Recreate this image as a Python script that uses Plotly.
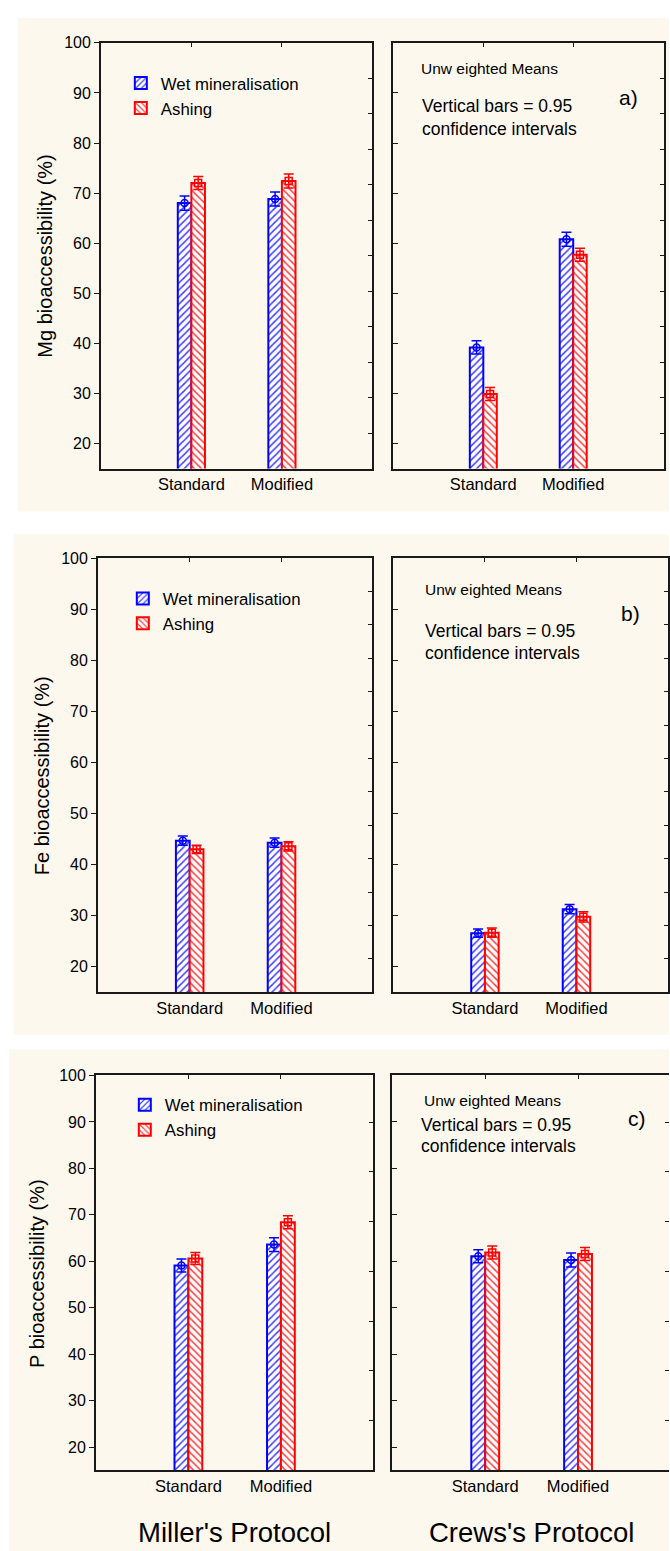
import plotly.graph_objects as go

W, H = 670, 1551
FONT = "Liberation Sans, Arial, sans-serif"
BLUE = "#0000FF"
RED = "#FF0000"
CREAM = "#FDF8EE"

categories = ["Standard", "Modified"]
cat_idx = [0, 1]

# Mg (panel a)
mg_miller_wet = [68.0, 68.8]
mg_miller_wet_ci = [1.4, 1.4]
mg_miller_ash = [72.0, 72.4]
mg_miller_ash_ci = [1.3, 1.4]
mg_crews_wet = [39.2, 60.8]
mg_crews_wet_ci = [1.3, 1.4]
mg_crews_ash = [29.9, 57.7]
mg_crews_ash_ci = [1.3, 1.3]

# Fe (panel b)
fe_miller_wet = [44.7, 44.3]
fe_miller_wet_ci = [0.9, 0.9]
fe_miller_ash = [43.0, 43.6]
fe_miller_ash_ci = [0.8, 0.9]
fe_crews_wet = [26.6, 31.3]
fe_crews_wet_ci = [0.8, 0.9]
fe_crews_ash = [26.7, 29.8]
fe_crews_ash_ci = [0.9, 1.0]

# P (panel c)
p_miller_wet = [59.1, 63.6]
p_miller_wet_ci = [1.4, 1.5]
p_miller_ash = [60.6, 68.4]
p_miller_ash_ci = [1.3, 1.4]
p_crews_wet = [61.1, 60.3]
p_crews_wet_ci = [1.4, 1.5]
p_crews_ash = [61.9, 61.6]
p_crews_ash_ci = [1.4, 1.4]

series_names = ["Wet mineralisation", "Ashing"]
y_ticks = [20, 30, 40, 50, 60, 70, 80, 90, 100]
y_tick_labels = ["20", "30", "40", "50", "60", "70", "80", "90", "100"]
panel_letters = ["a)", "b)", "c)"]
panel_ytitles = ["Mg bioaccessibility (%)", "Fe bioaccessibility (%)", "P bioaccessibility (%)"]
protocol_names = ["Miller's Protocol", "Crews's Protocol"]
note_lines = ["Unw eighted Means", "Vertical bars = 0.95", "confidence intervals"]

panels_data = [
    [(mg_miller_wet, mg_miller_wet_ci, mg_miller_ash, mg_miller_ash_ci),
     (mg_crews_wet, mg_crews_wet_ci, mg_crews_ash, mg_crews_ash_ci)],
    [(fe_miller_wet, fe_miller_wet_ci, fe_miller_ash, fe_miller_ash_ci),
     (fe_crews_wet, fe_crews_wet_ci, fe_crews_ash, fe_crews_ash_ci)],
    [(p_miller_wet, p_miller_wet_ci, p_miller_ash, p_miller_ash_ci),
     (p_crews_wet, p_crews_wet_ci, p_crews_ash, p_crews_ash_ci)],
]

# ---------------- layout geometry (pixels) ----------------
def px(x):
    return x / W

def py(y):
    return 1 - y / H

panel_geo = [
    dict(bg=(18, 10, 670, 506), left=(101, 373), right=(394, 665), top=35, bottom=463,
         xr_left=[-1, 2], xr_right=[-1, 2.01], sec_n=12,
         notes=[(420, 61), (421, 99), (421, 122)], letter=(618, 90),
         legend=(121, 58), ytitle_x=45),
    dict(bg=(14, 529, 670, 1032), left=(98, 373), right=(394, 669), top=553, bottom=989.5,
         xr_left=[-1, 1.99], xr_right=[-1, 2.0], sec_n=13,
         notes=[(424, 585), (424, 626), (424, 648)], letter=(620, 609),
         legend=(123, 576), ytitle_x=42),
    dict(bg=(9, 1047, 670, 1551), left=(96, 374), right=(393, 670), top=1073, bottom=1470,
         xr_left=[-1, 2.0], xr_right=[-1, 1.98], sec_n=7.94,
         notes=[(423, 1098), (420, 1123), (420, 1144)], letter=(627, 1116),
         legend=(125, 1085), ytitle_x=37),
]

fig = go.Figure()
layout = dict(
    width=W, height=H,
    margin=dict(l=0, r=0, t=0, b=0),
    paper_bgcolor="white",
    plot_bgcolor="white",
    barmode="overlay",
    font=dict(family=FONT, size=16, color="black"),
    showlegend=True,
    shapes=[],
    annotations=[],
)

ax = 0
for p, geo in enumerate(panel_geo):
    x0, y0, x1, y1 = geo["bg"]
    layout["shapes"].append(dict(type="rect", xref="paper", yref="paper",
                                 x0=px(x0), x1=px(x1), y0=py(y1), y1=py(y0),
                                 fillcolor=CREAM, line=dict(width=0), layer="below"))
    legend_name = "legend" if p == 0 else f"legend{p + 1}"
    lx, ly = geo["legend"]
    layout[legend_name] = dict(x=px(lx), y=py(ly), xanchor="left", yanchor="top",
                               bgcolor="rgba(0,0,0,0)", borderwidth=0,
                               font=dict(family=FONT, size=16.8, color="black"),
                               itemwidth=30, tracegroupgap=0)
    for side in range(2):
        ax += 1
        xa = "x" if ax == 1 else f"x{ax}"
        ya = "y" if ax == 1 else f"y{ax}"
        xa_key = "xaxis" if ax == 1 else f"xaxis{ax}"
        ya_key = "yaxis" if ax == 1 else f"yaxis{ax}"
        dom = geo["left"] if side == 0 else geo["right"]
        xr = geo["xr_left"] if side == 0 else geo["xr_right"]
        wet, wet_ci, ash, ash_ci = panels_data[p][side]

        layout[xa_key] = dict(domain=[px(dom[0]), min(1.0, px(dom[1]))], anchor=ya, range=xr,
                              tickvals=cat_idx, ticktext=categories, ticks="",
                              showline=True, linecolor="#1a1a1a", linewidth=1.5,
                              mirror=True, showgrid=False, zeroline=False,
                              tickfont=dict(family=FONT, size=16.5, color="black"))
        no_right_line = (p == 2 and side == 1)
        layout[ya_key] = dict(domain=[py(geo["bottom"]), py(geo["top"])], anchor=xa,
                              range=[15, 100], tickvals=y_ticks, ticktext=y_tick_labels,
                              ticks="outside" if side == 0 else "inside", ticklen=5,
                              tickcolor="#1a1a1a", showticklabels=(side == 0),
                              showline=True, linecolor="#1a1a1a", linewidth=1.5,
                              mirror=False if no_right_line else True,
                              showgrid=False, zeroline=False,
                              tickfont=dict(family=FONT, size=16, color="black"))

        # overlay axes: top category ticks + right-side secondary ticks
        ox = 6 + ax
        oxa_key, oya_key = f"xaxis{ox}", f"yaxis{ox}"
        layout[oxa_key] = dict(overlaying=xa, anchor=ya, side="top", range=xr,
                               tickvals=cat_idx, ticks="inside", ticklen=4,
                               tickcolor="#1a1a1a", showticklabels=False,
                               showline=False, showgrid=False, zeroline=False)
        n = geo["sec_n"]
        layout[oya_key] = dict(overlaying=ya, anchor=xa, side="right", range=[0, n],
                               tickvals=list(range(1, int(n) + (0 if n == int(n) else 1))),
                               ticks="inside", ticklen=4, tickcolor="#1a1a1a",
                               showticklabels=False, showline=False, showgrid=False,
                               zeroline=False)
        fig.add_trace(go.Scatter(x=[], y=[], xaxis=f"x{ox}", yaxis=f"y{ox}",
                                 showlegend=False, hoverinfo="skip"))

        bar_w = 0.15
        for s, (vals, ci, col, shape, sym, off) in enumerate([
            (wet, wet_ci, BLUE, "/", "circle-open", -bar_w),
            (ash, ash_ci, RED, "\\", "square-open", 0.0),
        ]):
            fig.add_trace(go.Bar(
                x=cat_idx, y=vals, width=bar_w, offset=off, xaxis=xa, yaxis=ya,
                name=series_names[s], legend=legend_name, showlegend=(side == 0),
                marker=dict(color="white", line=dict(color=col, width=2),
                            pattern=dict(shape=shape, fgcolor=col, bgcolor="white",
                                         fgopacity=0.75, size=5, solidity=0.3)),
            ))
            fig.add_trace(go.Scatter(
                x=[c + off + bar_w / 2 for c in cat_idx], y=vals, xaxis=xa, yaxis=ya,
                mode="markers", showlegend=False, cliponaxis=False,
                marker=dict(symbol=sym, size=7, color=col, line=dict(width=1.5, color=col)),
                error_y=dict(type="data", array=ci, visible=True, color=col,
                             thickness=1.5, width=5),
            ))

    # annotations
    for (tx, tyy), txt, fs in zip(geo["notes"], note_lines, [15.5, 17.5, 17.5]):
        layout["annotations"].append(dict(text=txt, xref="paper", yref="paper",
                                          x=px(tx), y=py(tyy), xanchor="left", yanchor="middle",
                                          showarrow=False, font=dict(family=FONT, size=fs, color="black")))
    lx2, ly2 = geo["letter"]
    layout["annotations"].append(dict(text=panel_letters[p], xref="paper", yref="paper",
                                      x=px(lx2), y=py(ly2), xanchor="left", yanchor="middle",
                                      showarrow=False, font=dict(family=FONT, size=21, color="black")))
    layout["annotations"].append(dict(text=panel_ytitles[p], xref="paper", yref="paper",
                                      x=px(geo["ytitle_x"]), y=py((geo["top"] + geo["bottom"]) / 2),
                                      xanchor="center", yanchor="middle", textangle=-90,
                                      showarrow=False, font=dict(family=FONT, size=20, color="black")))

# bottom protocol titles
for name, dom in zip(protocol_names, [panel_geo[2]["left"], (393, 672)]):
    layout["annotations"].append(dict(text=name, xref="paper", yref="paper",
                                      x=px((dom[0] + dom[1]) / 2), y=py(1532), xanchor="center",
                                      yanchor="middle", showarrow=False,
                                      font=dict(family=FONT, size=27.5, color="black")))

fig.update_layout(**layout)
fig.write_html(
    "out.html",
    config={"displayModeBar": False},
    post_script=(
        "document.documentElement.style.margin='0';"
        "document.documentElement.style.padding='0';"
        "document.body.style.margin='0';document.body.style.padding='0';"
        "document.body.style.overflow='hidden';"
        "var gd=document.getElementById('{plot_id}');"
        "gd.style.position='fixed';gd.style.left='0px';gd.style.top='0px';"
    ),
)
